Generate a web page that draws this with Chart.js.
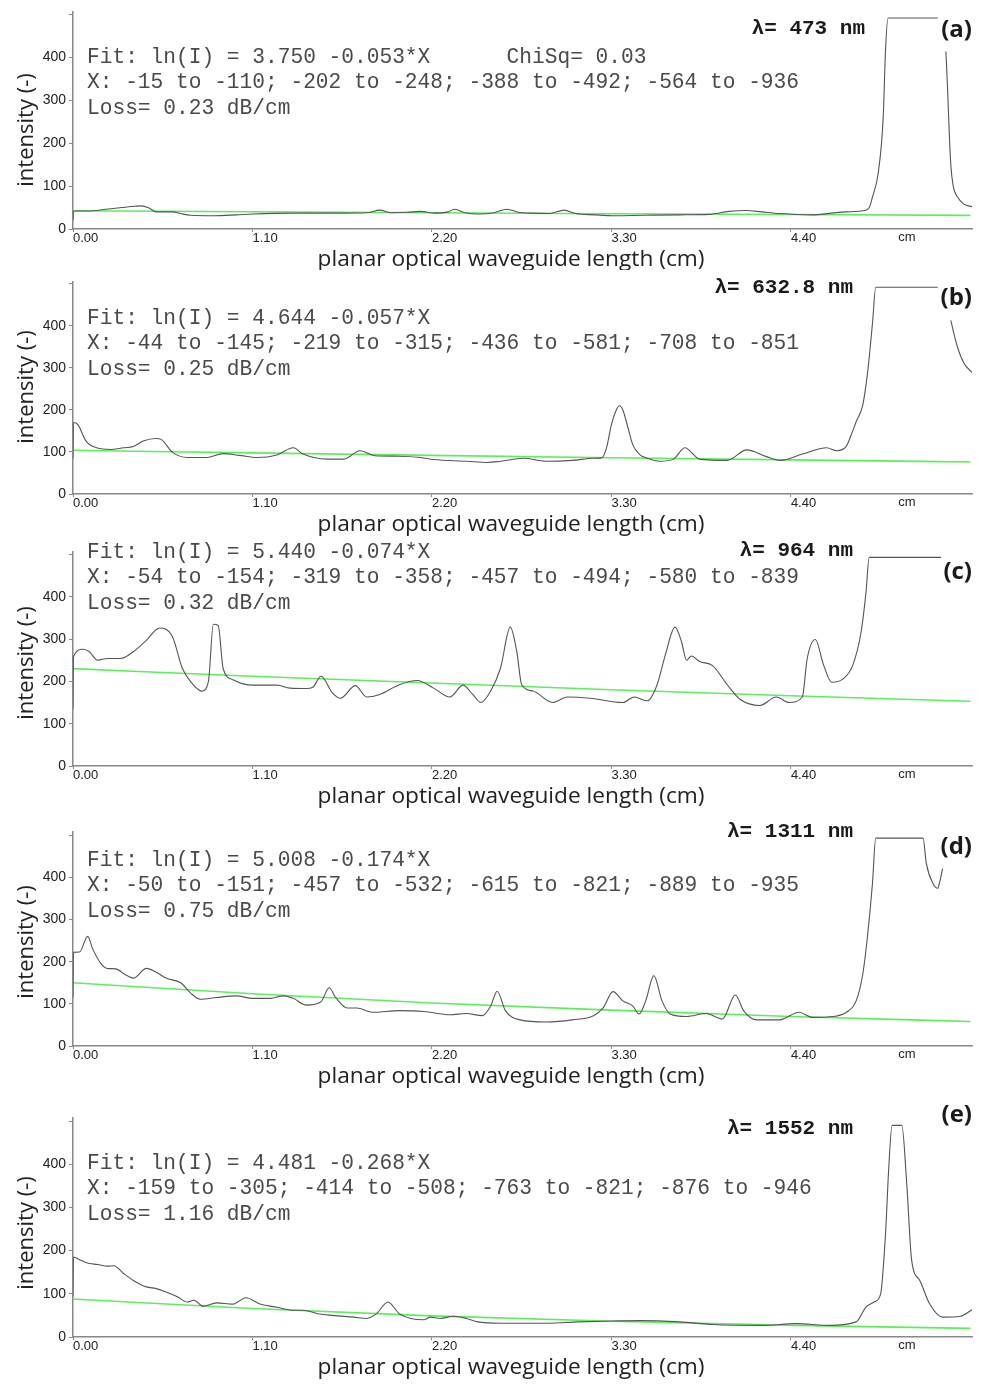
<!DOCTYPE html>
<html>
<head>
<meta charset="utf-8">
<title>planar waveguide loss</title>
<style>
  body { margin: 0; background: #fff; width: 983px; height: 1384px; position: relative; overflow: hidden; }
  canvas { position: absolute; left: 0; }
</style>
</head>
<body>
<script src="https://cdn.jsdelivr.net/npm/chart.js@4.4.1/dist/chart.umd.min.js"></script>
<script>
// x in cm, y in intensity (-); null = gap in the trace
const aX = [0, 0.003, 0.10, 0.20, 0.30, 0.38, 0.42, 0.47, 0.51, 0.61, 0.66, 0.72, 0.86, 1.00, 1.10, 1.35, 1.60, 1.80, 1.88, 1.95, 2.05, 2.13, 2.22, 2.30, 2.34, 2.40, 2.50, 2.58, 2.66, 2.73, 2.80, 2.92, 3.01, 3.08, 3.20, 3.31, 3.50, 3.72, 3.90, 4.02, 4.13, 4.22, 4.33, 4.53, 4.65, 4.74, 4.85, 4.88, 4.90, 4.935, 4.966, 4.98, 4.996, 5.30, 5.32, 5.35, 5.36, 5.37, 5.38, 5.395, 5.42, 5.46, 5.51];
const aY = [20, 42, 42, 46, 50, 53, 54, 48, 40, 40, 36, 32, 31, 33, 35, 37, 37, 38, 44, 38, 39, 41, 37, 40, 46, 38, 35, 38, 46, 39, 37, 36, 44, 36, 33, 31, 32, 33, 34, 41, 43, 40, 36, 33, 37, 40, 43, 50, 75, 130, 262, 418, 492, 492, null, 414, 330, 230, 150, 100, 75, 58, 52];

const bX = [0, 0.003, 0.03, 0.08, 0.145, 0.23, 0.31, 0.37, 0.43, 0.51, 0.54, 0.61, 0.70, 0.82, 0.92, 1.02, 1.13, 1.25, 1.35, 1.41, 1.56, 1.66, 1.76, 1.85, 2.00, 2.13, 2.21, 2.41, 2.54, 2.62, 2.76, 2.90, 3.06, 3.19, 3.24, 3.27, 3.30, 3.33, 3.35, 3.37, 3.40, 3.43, 3.47, 3.52, 3.60, 3.68, 3.75, 3.84, 4.01, 4.13, 4.25, 4.34, 4.47, 4.62, 4.68, 4.74, 4.77, 4.80, 4.84, 4.87, 4.90, 4.92, 5.30, 5.34, 5.38, 5.42, 5.46, 5.51];
const bY = [85, 170, 165, 126, 110, 106, 110, 113, 126, 132, 130, 99, 87, 87, 96, 92, 87, 93, 110, 95, 83, 83, 103, 91, 90, 87, 82, 78, 75, 78, 85, 78, 80, 85, 86, 110, 165, 200, 210, 200, 160, 118, 95, 85, 78, 83, 110, 83, 80, 105, 89, 80, 95, 110, 103, 114, 141, 172, 211, 289, 406, 492, 492, null, 413, 351, 312, 289];

const cX = [0, 0.003, 0.06, 0.10, 0.15, 0.21, 0.29, 0.37, 0.45, 0.53, 0.61, 0.67, 0.72, 0.79, 0.83, 0.86, 0.89, 0.92, 0.98, 1.10, 1.25, 1.33, 1.43, 1.47, 1.52, 1.59, 1.64, 1.73, 1.80, 1.88, 2.00, 2.11, 2.21, 2.31, 2.39, 2.45, 2.50, 2.56, 2.62, 2.68, 2.72, 2.75, 2.82, 2.94, 3.03, 3.17, 3.37, 3.44, 3.52, 3.58, 3.63, 3.69, 3.73, 3.76, 3.79, 3.84, 3.92, 4.01, 4.09, 4.21, 4.31, 4.39, 4.47, 4.50, 4.55, 4.60, 4.65, 4.73, 4.78, 4.83, 4.86, 4.88, 5.32];
const cY = [135, 258, 276, 270, 250, 254, 254, 270, 297, 326, 305, 231, 200, 177, 200, 335, 332, 231, 204, 191, 191, 184, 183, 186, 212, 173, 160, 190, 163, 169, 192, 202, 184, 163, 191, 169, 150, 177, 231, 328, 270, 192, 177, 150, 163, 160, 150, 163, 154, 192, 262, 328, 293, 250, 260, 247, 237, 192, 157, 143, 163, 150, 163, 254, 299, 239, 198, 209, 239, 316, 409, 493, 493];

const dX = [0, 0.003, 0.04, 0.09, 0.12, 0.17, 0.21, 0.26, 0.33, 0.37, 0.45, 0.51, 0.57, 0.66, 0.72, 0.78, 0.88, 1.00, 1.10, 1.21, 1.29, 1.35, 1.43, 1.52, 1.57, 1.61, 1.68, 1.74, 1.84, 2.00, 2.15, 2.31, 2.41, 2.51, 2.56, 2.60, 2.65, 2.74, 2.90, 3.06, 3.19, 3.25, 3.31, 3.37, 3.43, 3.47, 3.51, 3.56, 3.61, 3.66, 3.76, 3.88, 3.98, 4.06, 4.11, 4.19, 4.33, 4.45, 4.53, 4.66, 4.74, 4.80, 4.84, 4.87, 4.90, 4.92, 5.21, 5.23, 5.27, 5.30, 5.31, 5.33];
const dY = [115, 222, 223, 260, 231, 196, 184, 183, 167, 161, 184, 175, 161, 150, 126, 111, 115, 119, 113, 113, 119, 113, 97, 105, 138, 115, 90, 90, 80, 84, 82, 74, 77, 72, 95, 130, 84, 62, 57, 62, 72, 91, 129, 107, 95, 76, 107, 167, 107, 76, 70, 77, 64, 121, 84, 62, 62, 80, 68, 70, 80, 107, 169, 262, 386, 493, 493, 433, 386, 374, 386, 421];

const eX = [0, 0.003, 0.04, 0.10, 0.15, 0.21, 0.25, 0.31, 0.37, 0.45, 0.51, 0.57, 0.64, 0.70, 0.74, 0.80, 0.88, 0.98, 1.06, 1.15, 1.25, 1.35, 1.41, 1.50, 1.59, 1.72, 1.80, 1.86, 1.93, 2.00, 2.07, 2.15, 2.19, 2.25, 2.33, 2.41, 2.48, 2.62, 2.90, 3.10, 3.31, 3.47, 3.72, 3.92, 4.23, 4.43, 4.64, 4.80, 4.86, 4.91, 4.95, 4.98, 5.00, 5.02, 5.08, 5.11, 5.14, 5.19, 5.25, 5.33, 5.44, 5.51];
const eY = [93, 185, 179, 170, 168, 164, 165, 147, 131, 116, 112, 104, 93, 81, 85, 71, 79, 76, 91, 76, 69, 62, 62, 54, 50, 46, 43, 54, 81, 54, 43, 40, 46, 43, 48, 43, 35, 32, 32, 35, 37, 38, 35, 29, 27, 31, 27, 35, 69, 81, 100, 239, 393, 490, 490, 355, 178, 131, 77, 46, 48, 63];

// green fit lines, read at the tick positions
const fitX = [0, 1.1, 2.2, 3.3, 4.4, 5.5];
const aFit = [42.5, 40.2, 37.9, 35.7, 33.7, 31.8];
const bFit = [104, 97.8, 91.9, 86.4, 81.2, 76.3];
const cFit = [230, 212, 196, 180, 166, 153];
const dFit = [150, 124, 102, 85, 70, 58];
const eFit = [88, 66, 49, 36.5, 27, 20];

const xTicks = [0, 1.1, 2.2, 3.3, 4.4];
const yTicks = [0, 100, 200, 300, 400, 500];

const tags = ['(a)', '(b)', '(c)', '(d)', '(e)'];
const lambdas = ['λ= 473 nm', 'λ= 632.8 nm', 'λ= 964 nm', 'λ= 1311 nm', 'λ= 1552 nm'];
const fitTexts = [
  ['Fit: ln(I) = 3.750 -0.053*X      ChiSq= 0.03', 'X: -15 to -110; -202 to -248; -388 to -492; -564 to -936', 'Loss= 0.23 dB/cm'],
  ['Fit: ln(I) = 4.644 -0.057*X', 'X: -44 to -145; -219 to -315; -436 to -581; -708 to -851', 'Loss= 0.25 dB/cm'],
  ['Fit: ln(I) = 5.440 -0.074*X', 'X: -54 to -154; -319 to -358; -457 to -494; -580 to -839', 'Loss= 0.32 dB/cm'],
  ['Fit: ln(I) = 5.008 -0.174*X', 'X: -50 to -151; -457 to -532; -615 to -821; -889 to -935', 'Loss= 0.75 dB/cm'],
  ['Fit: ln(I) = 4.481 -0.268*X', 'X: -159 to -305; -414 to -508; -763 to -821; -876 to -946', 'Loss= 1.16 dB/cm']
];
const yTitle = 'intensity (-)';
const xTitle = 'planar optical waveguide length (cm)';
const xUnit = 'cm';

const series = [[aX, aY, aFit], [bX, bY, bFit], [cX, cY, cFit], [dX, dY, dFit], [eX, eY, eFit]];

// page geometry of each panel (px)
const boxes = [
  { top: 0,    h: 270, axisTop: 12,   zero: 229,  yMax: 506, fitY: 57,   lamX: 865, lamY: 29,   tagY: 30,   yT: 130 },
  { top: 270,  h: 270, axisTop: 277,  zero: 494,  yMax: 506, fitY: 318,  lamX: 853, lamY: 288,  tagY: 298,  yT: 387 },
  { top: 540,  h: 280, axisTop: 548,  zero: 766,  yMax: 507, fitY: 552,  lamX: 853, lamY: 551,  tagY: 572,  yT: 663 },
  { top: 820,  h: 280, axisTop: 827,  zero: 1046, yMax: 509, fitY: 860,  lamX: 853, lamY: 832,  tagY: 847,  yT: 942 },
  { top: 1100, h: 284, axisTop: 1118, zero: 1337, yMax: 507, fitY: 1163, lamX: 853, lamY: 1129, tagY: 1115, yT: 1233 }
];

const overlay = {
  id: 'overlay',
  afterDraw(chart, args, o) {
    const ctx = chart.ctx, b = o.box, i = o.idx, t = b.top;
    ctx.save();
    ctx.textBaseline = 'middle';

    ctx.fillStyle = '#4a4a4a';
    ctx.font = '21.2px "Liberation Mono", monospace';
    ctx.textAlign = 'left';
    fitTexts[i].forEach((s, k) => ctx.fillText(s, 87, b.fitY - t + k * 25.7));

    ctx.fillStyle = '#1a1a1a';
    ctx.font = 'bold 21px "Liberation Mono", monospace';
    ctx.textAlign = 'right';
    ctx.fillText(lambdas[i], b.lamX, b.lamY - t);

    ctx.font = 'bold 24px "Open Sans", sans-serif';
    ctx.fillText(tags[i], 972, b.tagY - t);

    ctx.fillStyle = '#222';
    ctx.textAlign = 'center';
    ctx.font = '22.7px "Open Sans", sans-serif';
    ctx.fillText(xTitle, 511, b.zero + 31 - t);

    ctx.font = '13px "Liberation Sans", sans-serif';
    ctx.fillText(xUnit, 907, b.zero + 8 - t);

    ctx.translate(27, b.yT - t);
    ctx.rotate(-Math.PI / 2);
    ctx.font = '22px "Open Sans", sans-serif';
    ctx.fillText(yTitle, 0, 0);
    ctx.restore();
  }
};

series.forEach(([xs, ys, fit], i) => {
  const b = boxes[i];
  const cv = document.createElement('canvas');
  cv.width = 983;
  cv.height = b.h;
  cv.style.top = b.top + 'px';
  document.body.appendChild(cv);

  new Chart(cv, {
    type: 'line',
    data: {
      datasets: [
        { data: xs.map((x, k) => ({ x, y: ys[k] })), borderColor: '#555', borderWidth: 1.1, pointRadius: 0,
          spanGaps: false, cubicInterpolationMode: 'monotone' },
        { data: fitX.map((x, k) => ({ x, y: fit[k] })), borderColor: '#5cef5c', borderWidth: 1.6, pointRadius: 0,
          cubicInterpolationMode: 'monotone' }
      ]
    },
    options: {
      responsive: false,
      animation: false,
      events: [],
      layout: { padding: { top: b.axisTop - b.top, right: 11, left: 0, bottom: 0 } },
      plugins: {
        legend: { display: false },
        tooltip: { enabled: false },
        overlay: { box: b, idx: i }
      },
      scales: {
        x: {
          type: 'linear', min: 0, max: 5.51,
          afterBuildTicks: s => { s.ticks = xTicks.map(v => ({ value: v })); },
          afterFit: s => { s.height = b.top + b.h - b.zero; },
          ticks: { align: 'start', autoSkip: false, maxRotation: 0, padding: -1, color: '#222',
                   font: { family: 'Liberation Sans', size: 13 }, callback: v => v.toFixed(2) },
          grid: { drawOnChartArea: false, tickLength: 3, color: '#888' },
          border: { color: '#888', width: 1.5 }
        },
        y: {
          min: 0, max: b.yMax,
          afterBuildTicks: s => { s.ticks = yTicks.map(v => ({ value: v })); },
          afterFit: s => { s.width = 73; },
          ticks: { padding: 3, color: '#222', font: { family: 'Liberation Sans', size: 14 },
                   callback: v => (v === 500 ? '' : v) },
          grid: { drawOnChartArea: false, tickLength: 4, color: '#888' },
          border: { color: '#888', width: 1.5 }
        }
      }
    },
    plugins: [overlay]
  });
});
</script>
</body>
</html>
